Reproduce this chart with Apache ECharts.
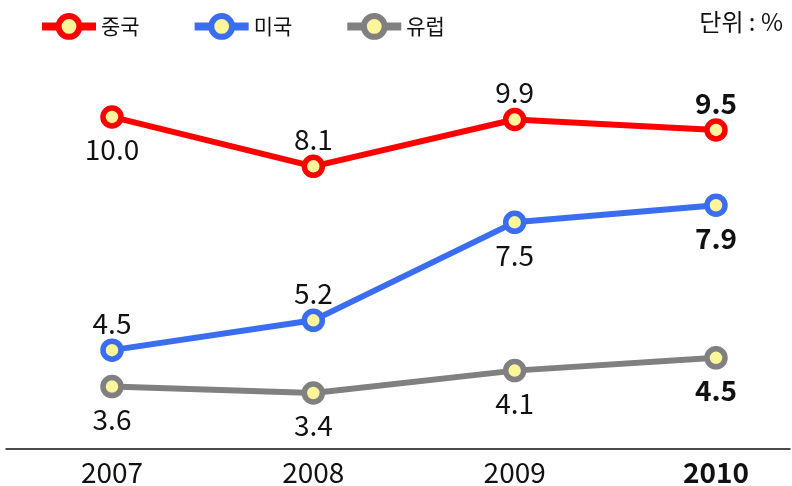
<!DOCTYPE html>
<html>
<head>
<meta charset="utf-8">
<script src="https://cdn.jsdelivr.net/npm/echarts@6/dist/echarts.min.js"></script>
<style>
    html, body { margin: 0; padding: 0; background: #fff; }
    #chart { width: 792px; height: 486px; }
</style>
</head>
<body>
<div id="chart"></div>
<script>
var years = ['2007', '2008', '2009', '2010'];
var seriesNames = ['중국', '미국', '유럽'];
var china = [10.0, 8.1, 9.9, 9.5];
var usa = [4.5, 5.2, 7.5, 7.9];
var europe = [3.6, 3.4, 4.1, 4.5];
var unitText = '단위 : %';

var FONT = '"Noto Sans CJK KR", "Noto Sans", sans-serif';

// each series sits on its own hidden scale, like the original picture
var scales = [
    { min: -2.77, max: 12.19 },
    { min: 2.18, max: 11.31 },
    { min: 1.65, max: 13.81 }
];
var colors = ['#ff0000', '#3a6df0', '#808080'];
// label above ('top') or below ('bottom') each point
var labelSides = [
    ['bottom', 'top', 'top', 'top'],
    ['top', 'top', 'bottom', 'bottom'],
    ['bottom', 'bottom', 'bottom', 'bottom']
];

var chart = echarts.init(document.getElementById('chart'));

function makeSeries(idx, values) {
    var data = values.map(function (v, i) {
        var side = labelSides[idx][i];
        return {
            value: v,
            label: {
                position: side,
                distance: side === 'top' ? 1 : 7,
                fontWeight: i === values.length - 1 ? 'bold' : 'normal'
            }
        };
    });
    return {
        name: seriesNames[idx],
        type: 'line',
        xAxisIndex: 0,
        yAxisIndex: idx,
        data: data,
        color: colors[idx],
        symbol: 'circle',
        symbolSize: 18,
        lineStyle: { width: 6, color: colors[idx] },
        itemStyle: { color: '#fcf59a', borderColor: colors[idx], borderWidth: 5.5 },
        label: {
            show: true,
            fontFamily: FONT,
            fontSize: 28,
            color: '#111',
            formatter: function (p) {
                return p.value.toFixed(1);
            }
        },
        z: 10 - idx
    };
}

chart.setOption({
    animation: false,
    textStyle: { fontFamily: FONT },
    title: {
        text: unitText,
        right: 4,
        top: 5,
        textStyle: { fontFamily: FONT, fontSize: 24, fontWeight: 'normal', color: '#111' }
    },
    legend: {
        left: 33,
        top: 8,
        itemWidth: 54,
        itemHeight: 26,
        itemGap: 51,
        textStyle: { fontFamily: FONT, fontSize: 21, color: '#111' },
        lineStyle: { width: 8 },
        itemStyle: { borderWidth: 6 },
        data: seriesNames
    },
    grid: [
        { left: 112, right: 76, top: 60, bottom: 37 },
        { left: 6, right: 2, top: 60, bottom: 37 }
    ],
    xAxis: [
        {
            type: 'category',
            gridIndex: 0,
            data: years,
            boundaryGap: false,
            axisLine: { show: false },
            axisTick: { show: false },
            axisLabel: {
                margin: 9,
                fontFamily: FONT,
                fontSize: 28,
                color: '#111',
                formatter: function (v) {
                    return v === years[years.length - 1] ? '{b|' + v + '}' : v;
                },
                rich: {
                    b: { fontFamily: FONT, fontSize: 28, fontWeight: 'bold', color: '#111' }
                }
            }
        },
        {
            // baseline across the full width
            type: 'category',
            gridIndex: 1,
            data: [''],
            axisLine: { onZero: false, lineStyle: { color: '#111', width: 1.5 } },
            axisTick: { show: false },
            axisLabel: { show: false }
        }
    ],
    yAxis: scales.map(function (s) {
        return {
            type: 'value',
            gridIndex: 0,
            min: s.min,
            max: s.max,
            show: false,
            splitLine: { show: false }
        };
    }).concat([{
        type: 'value',
        gridIndex: 1,
        show: false,
        splitLine: { show: false }
    }]),
    series: [
        makeSeries(0, china),
        makeSeries(1, usa),
        makeSeries(2, europe)
    ]
});
</script>
</body>
</html>
